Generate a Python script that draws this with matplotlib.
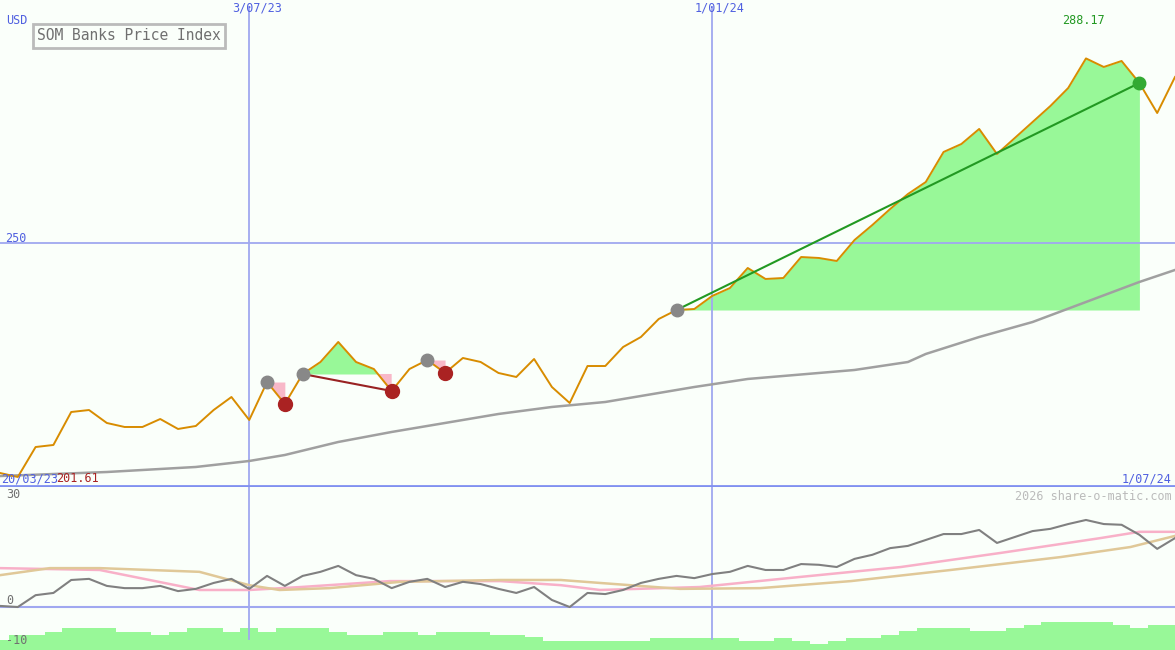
import numpy as np
import matplotlib.pyplot as plt

# weekly index values, 20/03/23 .. 1/07/24
price = [202.44, 201.61, 207.81, 208.23, 215.05, 215.46, 212.78, 211.95, 211.95, 213.60,
         211.54, 212.16, 215.46, 218.15, 213.40, 221.25, 216.71, 222.91, 225.39, 229.53,
         225.39, 223.94, 219.39, 223.94, 225.80, 223.12, 226.22, 225.39, 223.12, 222.29,
         226.01, 220.22, 216.91, 224.56, 224.56, 228.49, 230.56, 234.28, 236.14, 236.35,
         239.04, 240.69, 244.83, 242.56, 242.76, 247.10, 246.90, 246.28, 250.62, 253.72,
         257.03, 260.13, 262.61, 268.82, 270.47, 273.58, 268.41, 271.71, 275.02, 278.33,
         282.05, 288.17, 286.40, 287.64, 283.09, 276.88, 284.33]

ma_idx = [0, 6, 11, 14, 16, 19, 22, 28, 31, 34, 39, 42, 48, 51, 52, 55, 58, 61, 64, 66]
ma_val = [201.81, 202.64, 203.68, 204.92, 206.16, 208.85, 210.92, 214.64, 216.09, 217.12,
          220.22, 221.88, 223.74, 225.39, 227.05, 230.56, 233.66, 237.80, 241.94, 244.42]

osc = [0.3, 0, 3.2, 3.8, 7.3, 7.6, 5.7, 5.1, 5.1, 5.7, 4.3, 4.9, 6.5, 7.6, 4.9, 8.4, 5.7,
       8.4, 9.5, 11.1, 8.6, 7.6, 5.1, 6.8, 7.6, 5.4, 6.8, 6.2, 4.9, 3.8, 5.4, 1.9, 0, 3.8,
       3.5, 4.6, 6.5, 7.6, 8.4, 7.8, 8.9, 9.5, 11.1, 10.0, 10.0, 11.6, 11.4, 10.8, 13.0,
       14.1, 15.9, 16.5, 18.1, 19.7, 19.7, 20.8, 17.3, 18.9, 20.5, 21.1, 22.4, 23.5, 22.4,
       22.2, 19.5, 15.7, 18.6]

pink_idx = [0, 5.6, 11.2, 14, 16.9, 21.9, 28.1, 31.5, 33.7, 39.3, 44.9, 50.6, 56.2, 61.8, 64, 66]
pink_val = [10.5, 10.0, 4.6, 4.6, 5.4, 7.0, 7.0, 5.9, 4.6, 5.4, 8.1, 10.8, 14.6, 18.6, 20.3, 20.3]
tan_idx = [0, 2.8, 5.6, 11.2, 14, 15.7, 18.5, 22.5, 28.1, 31.5, 33.7, 38.2, 42.7, 47.8, 53.4, 59.6, 63.5, 66]
tan_val = [8.6, 10.5, 10.5, 9.5, 5.9, 4.6, 5.1, 6.8, 7.3, 7.3, 6.5, 4.9, 5.1, 7.0, 10.0, 13.5, 16.2, 19.2]

bars = [-8.9, -7.6, -7.6, -6.8, -5.7, -5.7, -5.7, -6.8, -6.8, -7.6, -6.8, -5.7, -5.7, -6.8,
        -5.7, -6.8, -5.7, -5.7, -5.7, -6.8, -7.6, -7.6, -6.8, -6.8, -7.6, -6.8, -6.8, -6.8,
        -7.6, -7.6, -8.1, -9.2, -9.2, -9.2, -9.2, -9.2, -9.2, -8.4, -8.4, -8.4, -8.4, -8.4,
        -9.2, -9.2, -8.4, -9.2, -10.0, -9.2, -8.4, -8.4, -7.6, -6.5, -5.7, -5.7, -5.7, -6.5,
        -6.5, -5.7, -4.9, -4.1, -4.1, -4.1, -4.1, -4.9, -5.7, -4.9, -4.9]

# trade signals: (start, end) index pairs
losses = [(15, 16), (17, 22), (24, 25)]
win = (38, 64)

bg = '#fafffa'
blue = '#a0a8f0'
mono = 'DejaVu Sans Mono'
x = np.arange(len(price))
p = np.array(price)

fig = plt.figure(figsize=(11.75, 6.5), dpi=100, facecolor=bg)
ax = fig.add_axes([0, 163 / 650, 1, 487 / 650], facecolor=bg)
ax2 = fig.add_axes([0, 0, 1, 163 / 650], facecolor=bg)
for a in (ax, ax2):
    a.set_xlim(0, 66)
    a.axis('off')
ax.set_ylim(199.54, 300.25)
ax2.set_ylim(-11.6, 32.4)

for xi in (14, 40):
    ax.axvline(xi, color=blue, lw=1.3, ymax=0.985)
    ax2.axvline(xi, color=blue, lw=1.3, ymin=0.07)
ax.axhline(250, color=blue, lw=1.3)
ax.axhline(199.8, color='#8090f0', lw=2)
ax2.axhline(0, color=blue, lw=1.5)

# signal shading
def shade(i0, i1):
    xs = x[i0:i1 + 1]
    lvl = p[i0]
    ax.fill_between(xs, p[i0:i1 + 1], lvl, where=p[i0:i1 + 1] >= lvl, color='#98f898', interpolate=True, lw=0)
    ax.fill_between(xs, p[i0:i1 + 1], lvl, where=p[i0:i1 + 1] <= lvl, color='#f8b8c8', interpolate=True, lw=0)

for i0, i1 in losses:
    shade(i0, i1)
shade(*win)

ax.plot(ma_idx, ma_val, color='#a0a0a0', lw=1.8)
ax.plot(x, p, color='#d88c00', lw=1.4)

for i0, i1 in losses:
    if i1 - i0 > 1:
        ax.plot([i0, i1], [p[i0], p[i1]], color='#992222', lw=1.5)
    ax.plot(i0, p[i0], 'o', color='#888888', ms=9)
    ax.plot(i1, p[i1], 'o', color='#aa2222', ms=10)
ax.plot([win[0], win[1]], [p[win[0]], p[win[1]]], color='#229922', lw=1.5)
ax.plot(win[0], p[win[0]], 'o', color='#888888', ms=9)
ax.plot(win[1], p[win[1]], 'o', color='#33aa33', ms=9)

ax2.bar(x, np.array(bars) + 11.6, bottom=-11.6, width=1.0, color='#98f898', lw=0)
ax2.plot(pink_idx, pink_val, color='#f8b0c8', lw=1.8)
ax2.plot(tan_idx, tan_val, color='#e0c898', lw=1.8)
ax2.plot(x, osc, color='#808080', lw=1.5)

# labels in pixel space
def t(px, py, s, c, **kw):
    fig.text(px / 1175, 1 - py / 650, s, color=c, family=mono, fontsize=8.5, va='center', **kw)

t(6, 20, 'USD', '#5060e0')
fig.text(37 / 1175, 1 - 36 / 650, 'SOM Banks Price Index', color='#707070', family=mono, fontsize=10.5,
         va='center', bbox=dict(boxstyle='square,pad=0.3', fc=bg, ec='#bbbbbb', lw=2))
t(232, 8, '3/07/23', '#5060e0')
t(695, 8, '1/01/24', '#5060e0')
t(1062, 21, '288.17', '#229922')
t(5, 238, '250', '#5060e0')
t(1, 479, '20/03/23', '#5060e0')
t(56, 479, '201.61', '#aa2222')
t(1172, 479, '1/07/24', '#5060e0', ha='right')
t(1172, 496, '2026 share-o-matic.com', '#bbbbbb', ha='right')
t(6, 495, '30', '#707070')
t(6, 601, '0', '#707070')
t(6, 641, '-10', '#707070')

fig.savefig('out.png', dpi=100, facecolor=bg)
